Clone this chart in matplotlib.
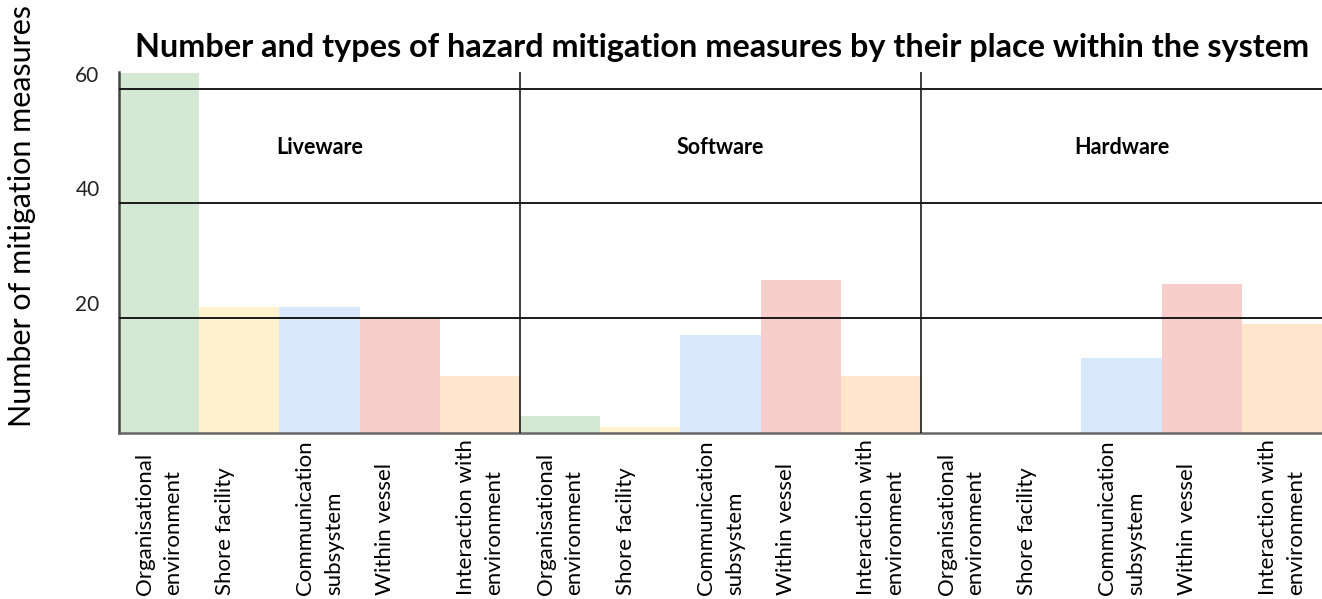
import matplotlib
matplotlib.use("Agg")
import matplotlib.pyplot as plt
from matplotlib.transforms import ScaledTranslation, blended_transform_factory
import numpy as np

groups = ["Liveware", "Software", "Hardware"]
categories = ["Organisational\nenvironment", "Shore facility", "Communication\nsubsystem",
              "Within vessel", "Interaction with\nenvironment"]
liveware = [62.8, 22, 22, 20, 10]
software = [3, 1, 17, 26.6, 10]
hardware = [0, 0, 13, 26, 19]
colors = ["#d5e8d4", "#fff2cc", "#dae8fc", "#f8cecc", "#ffe6cc"]
yticks = [20, 40, 60]

plt.rcParams['font.family'] = ['Lato', 'DejaVu Sans']

fig = plt.figure(figsize=(13.22, 5.99), dpi=100)
ax = fig.add_axes([119/1322, 1-433/599, 1-119/1322, (433-72)/599])

values = [liveware, software, hardware]
n = len(categories)
x = 0
for g, vals in enumerate(values):
    for i, v in enumerate(vals):
        ax.bar(x + 0.5, v, width=1.0, color=colors[i], edgecolor="none", zorder=1)
        x += 1
total = x
ax.set_xlim(0, total)
ax.set_ylim(0, 62.9)

# gridlines
for t in yticks:
    ax.axhline(t, color="#1a1a1a", lw=1.4, zorder=3)
for k in range(1, len(groups)):
    ax.axvline(k * n, color="#1a1a1a", lw=1.2, zorder=3)

# group labels
for k, gname in enumerate(groups):
    ax.text(k * n + n / 2, 49.8, gname, ha="center", va="center",
            fontsize=15.5, fontweight="bold", zorder=4)

for side in ["top", "right"]:
    ax.spines[side].set_visible(False)
ax.spines["left"].set_color("#444444")
ax.spines["left"].set_linewidth(1.8)
ax.spines["bottom"].set_color("#666666")
ax.spines["bottom"].set_linewidth(1.8)

ax.set_yticks(yticks)
ax.set_yticklabels([str(t) for t in yticks], fontsize=15, color="#222222")
ax.tick_params(axis="y", length=0, pad=14)
ax.tick_params(axis="x", length=0)
ax.set_xticks([])
off = ScaledTranslation(0, 15/100, fig.dpi_scale_trans)
for lab in ax.get_yticklabels():
    lab.set_transform(lab.get_transform() + off)

# x category labels
trans = blended_transform_factory(ax.transData, fig.transFigure)
ybase = 1 - 595/599
x = 0
for g in range(len(groups)):
    for i, c in enumerate(categories):
        txt = c if "\n" in c else c + "\n "
        ax.text(x + 0.5, ybase, txt, transform=trans, rotation=90,
                rotation_mode="anchor", ha="left", va="center",
                multialignment="left", fontsize=16, linespacing=1.55,
                clip_on=False)
        x += 1

fig.text(22/1322, 1-216/599, "Number of mitigation measures", rotation=90,
         ha="center", va="center", fontsize=22)
fig.text(722/1322, 1-48/599, "Number and types of hazard mitigation measures by their place within the system",
         ha="center", va="center", fontsize=23.3, fontweight="bold")

fig.savefig("out.png", dpi=100)
